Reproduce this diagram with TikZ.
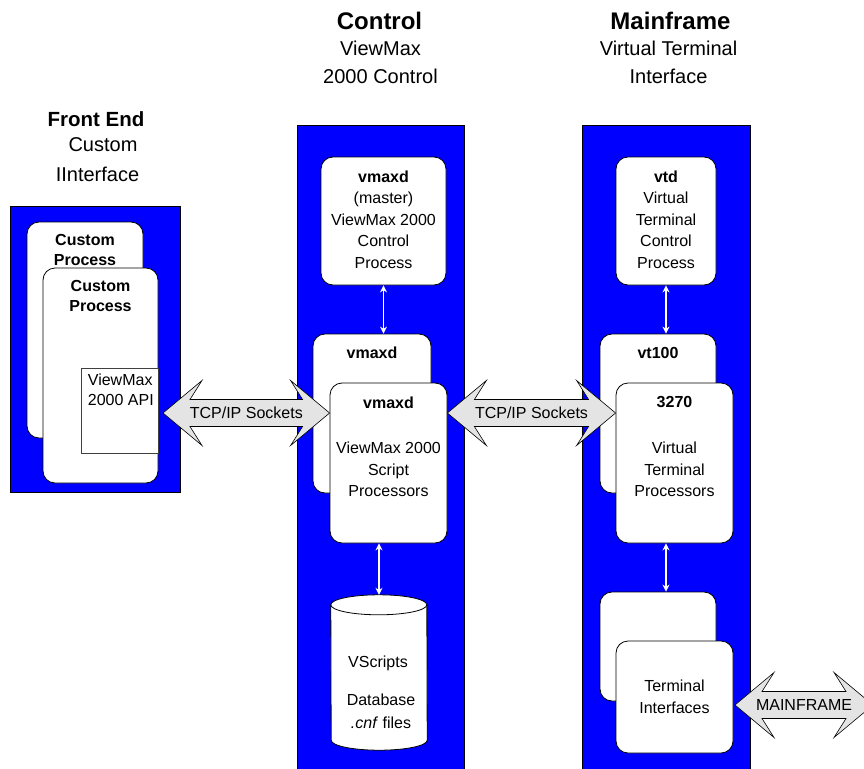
\documentclass[tikz,border=0pt]{standalone}
\usepackage{fontspec}
\setmainfont{Liberation Sans}
\usetikzlibrary{calc,arrows.meta}
\definecolor{pblue}{RGB}{0,0,255}
\definecolor{arrgray}{RGB}{228,228,228}
\newcommand{\fatarrow}[2]{%
  \draw[fat] let \p1=(#1), \p2=(#2) in
   (\x1,\y1) -- (\x1+39pt,\y1+32.5pt) -- (\x1+27pt,\y1+13.5pt) -- (\x2-27pt,\y1+13.5pt)
   -- (\x2-39pt,\y1+32.5pt) -- (\x2,\y1) -- (\x2-39pt,\y1-32.5pt) -- (\x2-27pt,\y1-13.5pt)
   -- (\x1+27pt,\y1-13.5pt) -- (\x1+39pt,\y1-32.5pt) -- cycle;}
\tikzset{
  panel/.style={draw=black, fill=pblue, line width=0.8pt, inner sep=0pt},
  box/.style={draw=black, fill=white, rounded corners=12pt, line width=0.8pt, inner sep=0pt},
  sqbox/.style={draw=black!75, fill=white, line width=0.6pt, inner sep=0pt},
  btxt/.style={font=\fontsize{16}{21.5}\selectfont, align=center, inner sep=0pt},
  ttl/.style={font=\fontsize{20}{28}\selectfont, align=center, inner sep=0pt},
  ttlb/.style={font=\fontsize{24}{28}\selectfont\bfseries, inner sep=0pt},
  vlink/.style={draw=white, line width=1.2pt, {Stealth[length=7pt,width=7pt]}-{Stealth[length=7pt,width=7pt]}},
  fat/.style={draw=black, fill=arrgray, line width=0.6pt, line join=miter},
  atxt/.style={font=\fontsize{16}{20}\selectfont, inner sep=0pt}
}
\begin{document}
\begin{tikzpicture}[x=1pt,y=-1pt]
\useasboundingbox (0,0) rectangle (864,768);

% titles
\node[ttlb] (hctl) at (379.5,21) {Control};
\node[ttl] (sctl) at (380.5,62) {ViewMax\\2000 Control};
\node[ttlb] (hmf) at (670.5,21) {Mainframe};
\node[ttl] (smf) at (668.5,62) {Virtual Terminal\\Interface};
\node[font=\fontsize{20.5}{28}\selectfont\bfseries, inner sep=0pt] (hfe) at (96,119) {Front End};
\node[ttl] (sfe1) at (103,145) {Custom};
\node[ttl] (sfe2) at (97.5,174) {IInterface};

% panels
\node[panel, minimum width=170pt, minimum height=286pt] (lpanel) at (95,349) {};
\node[panel, minimum width=167pt, minimum height=650pt] (mpanel) at (380.5,450) {};
\node[panel, minimum width=168pt, minimum height=650pt] (rpanel) at (666,450) {};

% front end boxes
\node[box, minimum width=116pt, minimum height=216pt] (cp1) at (85,330) {};
\node[btxt, font=\fontsize{16}{20}\selectfont\bfseries] (cp1t) at (85,250) {Custom\\Process};
\node[box, minimum width=115pt, minimum height=215pt] (cp2) at (100.5,375.5) {};
\node[btxt, font=\fontsize{16}{20}\selectfont\bfseries] (cp2t) at (100.5,296) {Custom\\Process};
\node[sqbox, minimum width=77pt, minimum height=85pt] (api) at (119.5,410.5) {};
\node[btxt, font=\fontsize{16}{20}\selectfont, align=left, anchor=west] (apit) at (87.7,390) {ViewMax\\2000 API};

% control boxes
\node[box, minimum width=125pt, minimum height=128pt] (ctl) at (383.5,221) {};
\node[btxt] (ctlt) at (383.5,219.5) {\textbf{vmaxd}\\(master)\\ViewMax 2000\\Control\\Process};
\node[box, minimum width=118pt, minimum height=159pt] (vm1) at (372,413.5) {};
\node[btxt] (vm1t) at (372,353) {\textbf{vmaxd}};
\node[box, minimum width=117pt, minimum height=160pt] (vm2) at (388.5,463) {};
\node[btxt] (vm2h) at (388.5,403) {\textbf{vmaxd}};
\node[btxt] (vm2t) at (388.5,469.3) {ViewMax 2000\\Script\\Processors};

% database cylinder
\node[inner sep=0pt, minimum width=96pt, minimum height=155pt] (db) at (379,672.5) {};
\draw[draw=black, fill=white, line width=0.8pt]
  (db.north west) ++(0pt,-10pt) arc[start angle=180, end angle=0, x radius=48pt, y radius=10pt]
  -- ($(db.south east)+(0pt,10pt)$) arc[start angle=0, end angle=-180, x radius=48pt, y radius=10pt] -- cycle;
\draw[line width=0.8pt] (db.north west) ++(0pt,-10pt) arc[start angle=180, end angle=360, x radius=48pt, y radius=10pt];
\node[btxt] (dbt1) at (378,663) {VScripts};
\node[btxt, font=\fontsize{16}{23}\selectfont] (dbt2) at (381,711.5) {Database\\\textit{.cnf} files};

% mainframe boxes
\node[box, minimum width=100pt, minimum height=128pt] (vtd) at (666,221) {};
\node[btxt] (vtdt) at (666,219.5) {\textbf{vtd}\\Virtual\\Terminal\\Control\\Process};
\node[box, minimum width=116pt, minimum height=159pt] (vt1) at (658,413.5) {};
\node[btxt] (vt1t) at (658,353) {\textbf{vt100}};
\node[box, minimum width=117pt, minimum height=160pt] (t32) at (674.5,463) {};
\node[btxt] (t32h) at (674.5,402) {\textbf{3270}};
\node[btxt] (t32t) at (674.5,469.3) {Virtual\\Terminal\\Processors};
\node[box, minimum width=116pt, minimum height=109pt] (tib) at (658,646.5) {};
\node[box, minimum width=117pt, minimum height=112pt] (tif) at (674.5,697) {};
\node[btxt] (tift) at (674.5,696.8) {Terminal\\Interfaces};

% vertical links
\draw[vlink] (ctl.south) -- (ctl.south |- vm1.north);
\draw[vlink] (db.north |- vm2.south) -- (db.north);
\draw[vlink] (vtd.south) -- (vtd.south |- vt1.north);
\draw[vlink] (vtd.south |- t32.south) -- (vtd.south |- tib.north);

% fat arrows
\coordinate (a1l) at (163,413);
\coordinate (a1r) at (vm2.west |- a1l);
\coordinate (a2l) at (vm2.east |- a1l);
\coordinate (a2r) at (t32.west |- a1l);
\coordinate (a3l) at (735,705);
\coordinate (a3r) at (873,705);
\fatarrow{a1l}{a1r}
\fatarrow{a2l}{a2r}
\fatarrow{a3l}{a3r}
\node[atxt] (a1t) at ($(a1l)!0.5!(a1r)$) {TCP/IP Sockets};
\node[atxt] (a2t) at ($(a2l)!0.5!(a2r)$) {TCP/IP Sockets};
\node[atxt] (a3t) at (804,705) {MAINFRAME};
\end{tikzpicture}
\end{document}
